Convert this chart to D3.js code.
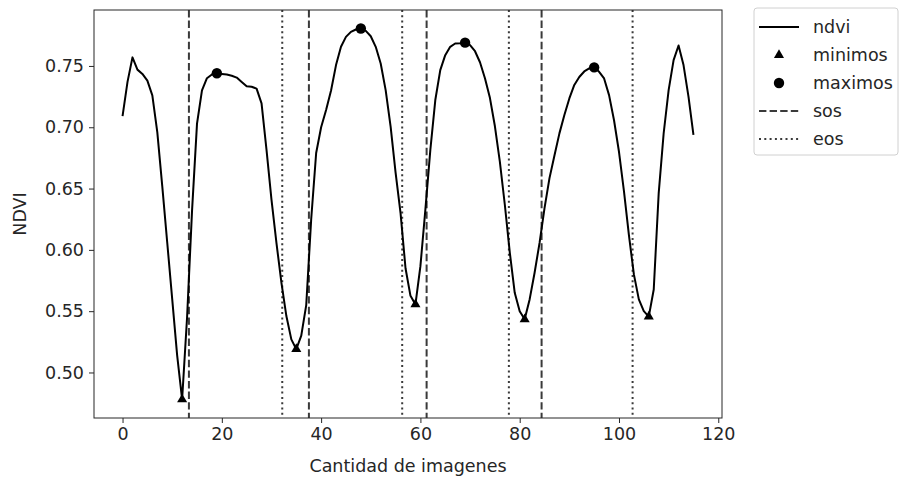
<!DOCTYPE html>
<html>
<head>
<meta charset="utf-8">
<script src="https://cdn.jsdelivr.net/npm/d3@7"></script>
<style>
html, body { margin: 0; padding: 0; background: #fff; }
svg text { font-family: "DejaVu Sans", sans-serif; fill: #262626; }
</style>
</head>
<body>
<svg id="chart" width="901" height="481"></svg>
<script>
// ---- data ----
const ndvi = [
  0.709, 0.737, 0.757, 0.747, 0.7435, 0.738, 0.726, 0.696, 0.652, 0.606,
  0.560, 0.514, 0.478, 0.545, 0.632, 0.703, 0.730, 0.740, 0.743, 0.744,
  0.7435, 0.743, 0.742, 0.7405, 0.737, 0.7335, 0.733, 0.7315, 0.7195, 0.6816,
  0.641, 0.6057, 0.5732, 0.546, 0.527, 0.519, 0.530, 0.555, 0.625, 0.679,
  0.700, 0.714, 0.730, 0.7507, 0.7656, 0.7737, 0.7778, 0.7797, 0.7805, 0.7786,
  0.7742, 0.7656, 0.752, 0.7303, 0.7005, 0.663, 0.630, 0.585, 0.5625, 0.5555,
  0.5867, 0.6328, 0.6816, 0.7222, 0.7466, 0.7588, 0.7656, 0.7683, 0.7686, 0.7690,
  0.767, 0.762, 0.753, 0.740, 0.724, 0.701, 0.672, 0.637, 0.598, 0.565,
  0.550, 0.5434, 0.5596, 0.5813, 0.6057, 0.634, 0.6585, 0.677, 0.695, 0.710,
  0.7235, 0.7345, 0.741, 0.7455, 0.748, 0.7488, 0.7452, 0.7398, 0.7262, 0.7057,
  0.680, 0.648, 0.612, 0.580, 0.5596, 0.5501, 0.5455, 0.5677, 0.6463, 0.6951,
  0.7303, 0.7547, 0.7667, 0.7507, 0.7249, 0.6937
];
const minimos = [12, 35, 59, 81, 106];
const maximos = [19, 48, 69, 95];
const sos = [13.37, 37.54, 61.25, 84.41];
const eos = [32.17, 56.33, 77.82, 102.74];
const xTicks = [0, 20, 40, 60, 80, 100, 120];
const yTicks = [0.50, 0.55, 0.60, 0.65, 0.70, 0.75];
const legendLabels = ["ndvi", "minimos", "maximos", "sos", "eos"];

// ---- layout ----
const L = 94, T = 10, W = 628, H = 408, FS = 17.5;
const svg = d3.select("#chart");
const g = svg.append("g").attr("transform", `translate(${L},${T})`);

const xs = d3.range(ndvi.length);
const xPad = (xs[xs.length - 1] - xs[0]) * 0.05;
const x = d3.scaleLinear().domain([xs[0] - xPad, xs[xs.length - 1] + xPad]).range([0, W]);
const [ymin, ymax] = d3.extent(ndvi);
const yPad = (ymax - ymin) * 0.05;
const y = d3.scaleLinear().domain([ymin - yPad, ymax + yPad]).range([H, 0]);

// vertical lines
const lineCol = "#3a3a3a";
g.selectAll("line.sos").data(sos).join("line").attr("class", "sos")
  .attr("x1", d => x(d)).attr("x2", d => x(d)).attr("y1", 0).attr("y2", H)
  .attr("stroke", lineCol).attr("stroke-width", 2).attr("stroke-dasharray", "7.4,3.2");
g.selectAll("line.eos").data(eos).join("line").attr("class", "eos")
  .attr("x1", d => x(d)).attr("x2", d => x(d)).attr("y1", 0).attr("y2", H)
  .attr("stroke", lineCol).attr("stroke-width", 2).attr("stroke-dasharray", "2,3.3");

// ndvi line
g.append("path").datum(ndvi)
  .attr("fill", "none").attr("stroke", "#000").attr("stroke-width", 2)
  .attr("stroke-linejoin", "round")
  .attr("d", d3.line().x((d, i) => x(i)).y(d => y(d)));

// markers
const tri = d3.symbol().type(d3.symbolTriangle).size(44);
g.selectAll("path.min").data(minimos).join("path").attr("class", "min")
  .attr("transform", i => `translate(${x(i)},${y(ndvi[i])})`)
  .attr("d", tri).attr("fill", "#000");
g.selectAll("circle.max").data(maximos).join("circle").attr("class", "max")
  .attr("cx", i => x(i)).attr("cy", i => y(ndvi[i])).attr("r", 5.2).attr("fill", "#000");

// axes
const xAxis = g.append("g").attr("transform", `translate(0,${H})`)
  .call(d3.axisBottom(x).tickValues(xTicks).tickSize(5).tickPadding(5).tickFormat(d3.format("d")));
const yAxis = g.append("g")
  .call(d3.axisLeft(y).tickValues(yTicks).tickSize(5).tickPadding(5).tickFormat(d3.format(".2f")));
[xAxis, yAxis].forEach(a => {
  a.select(".domain").remove();
  a.selectAll(".tick line").attr("stroke", "#262626").attr("stroke-width", 1);
  a.selectAll(".tick text").attr("font-size", FS).attr("font-family", "DejaVu Sans").attr("fill", "#262626");
});
// frame
g.append("rect").attr("x", 0).attr("y", 0).attr("width", W).attr("height", H)
  .attr("fill", "none").attr("stroke", "#262626").attr("stroke-width", 1);

// axis labels
svg.append("text").attr("x", L + W / 2).attr("y", 472).attr("text-anchor", "middle")
  .attr("font-size", FS).text("Cantidad de imagenes");
svg.append("text").attr("transform", `translate(26,${T + H / 2}) rotate(-90)`)
  .attr("text-anchor", "middle").attr("font-size", FS).text("NDVI");

// legend
const lg = svg.append("g").attr("transform", "translate(754,8)");
lg.append("rect").attr("width", 144).attr("height", 147).attr("rx", 3)
  .attr("fill", "#fff").attr("stroke", "#d0d0d0");
const rowY = k => 19 + k * 28;
legendLabels.forEach((lab, k) => {
  const cy = rowY(k);
  if (k === 0) lg.append("line").attr("x1", 5).attr("x2", 45).attr("y1", cy).attr("y2", cy)
    .attr("stroke", "#000").attr("stroke-width", 2);
  if (k === 1) lg.append("path").attr("transform", `translate(25,${cy})`).attr("d", tri).attr("fill", "#000");
  if (k === 2) lg.append("circle").attr("cx", 25).attr("cy", cy).attr("r", 5.2).attr("fill", "#000");
  if (k === 3) lg.append("line").attr("x1", 5).attr("x2", 45).attr("y1", cy).attr("y2", cy)
    .attr("stroke", lineCol).attr("stroke-width", 2).attr("stroke-dasharray", "7.4,3.2");
  if (k === 4) lg.append("line").attr("x1", 5).attr("x2", 45).attr("y1", cy).attr("y2", cy)
    .attr("stroke", lineCol).attr("stroke-width", 2).attr("stroke-dasharray", "2,3.3");
  lg.append("text").attr("x", 59).attr("y", cy).attr("dy", "0.35em").attr("font-size", FS).text(lab);
});
</script>
</body>
</html>
